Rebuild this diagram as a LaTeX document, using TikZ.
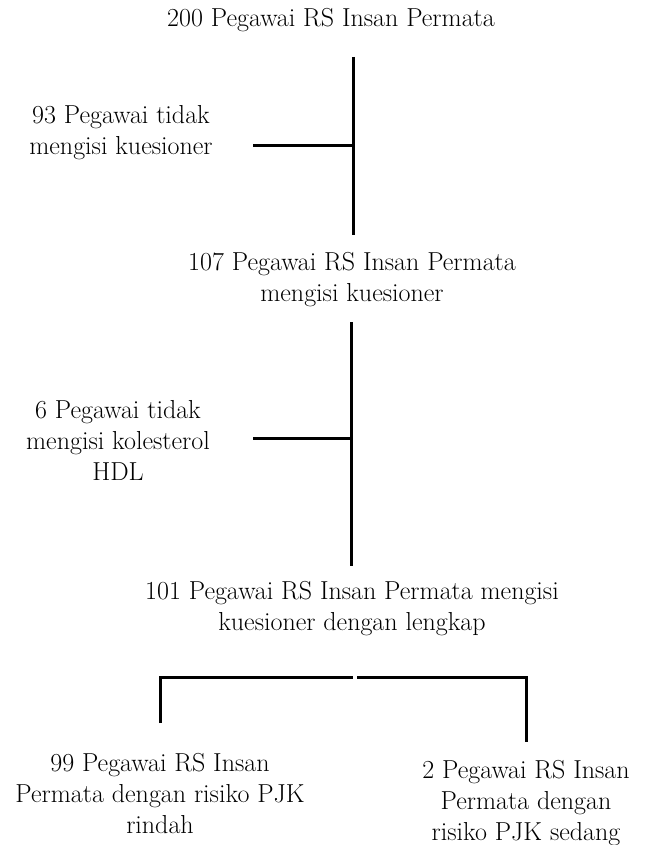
\documentclass[tikz,border=0pt]{standalone}
\usepackage{tikz}
\usetikzlibrary{positioning}

\begin{document}
\begin{tikzpicture}[x=1pt,y=-1pt]
		\tikzstyle{Info}=[align=center,inner sep=0pt,font=\fontsize{26}{31}\selectfont]
		\tikzstyle{Flow}=[line width=3pt]

		\def\xmain {353}
		\def\xside {253}

		\useasboundingbox (0,0) rectangle (646,845);

		% text blocks
		\node [Info] (All) at (331,20) {200 Pegawai RS Insan Permata};
		\node [Info] (NoQ) at (121,133) {93 Pegawai tidak\\mengisi kuesioner};
		\node [Info] (Filled) at (352,280) {107 Pegawai RS Insan Permata\\mengisi kuesioner};
		\node [Info] (NoHDL) at (118,440) {6 Pegawai tidak\\mengisi kolesterol\\HDL};
		\node [Info] (Complete) at (352,609) {101 Pegawai RS Insan Permata mengisi\\kuesioner dengan lengkap};
		\node [Info] (Low) at (160,794) {99 Pegawai RS Insan\\Permata dengan risiko PJK\\rindah};
		\node [Info] (Mid) at (526,803) {2 Pegawai RS Insan\\Permata dengan\\risiko PJK sedang};

		% junction points
		\coordinate (A1) at (\xmain,57);
		\coordinate (A2) at (\xmain,235);
		\coordinate (J1) at (\xmain,146);
		\coordinate (S1) at (\xside,146);
		\coordinate (B1) at (351,322);
		\coordinate (B2) at (351,566);
		\coordinate (J2) at (351,438);
		\coordinate (S2) at (\xside,438);
		\coordinate (L0) at (160,723);
		\coordinate (L1) at (160,677);
		\coordinate (L2) at (353,677);
		\coordinate (R0) at (357,677);
		\coordinate (R1) at (526,677);
		\coordinate (R2) at (526,742);

		\draw [Flow] (A1) -- (A2);
		\draw [Flow] (S1) -- (J1);
		\draw [Flow] (B1) -- (B2);
		\draw [Flow] (S2) -- (J2);
		\draw [Flow] (L0) -- (L1) -- (L2);
		\draw [Flow] (R0) -- (R1) -- (R2);
\end{tikzpicture}
\end{document}
